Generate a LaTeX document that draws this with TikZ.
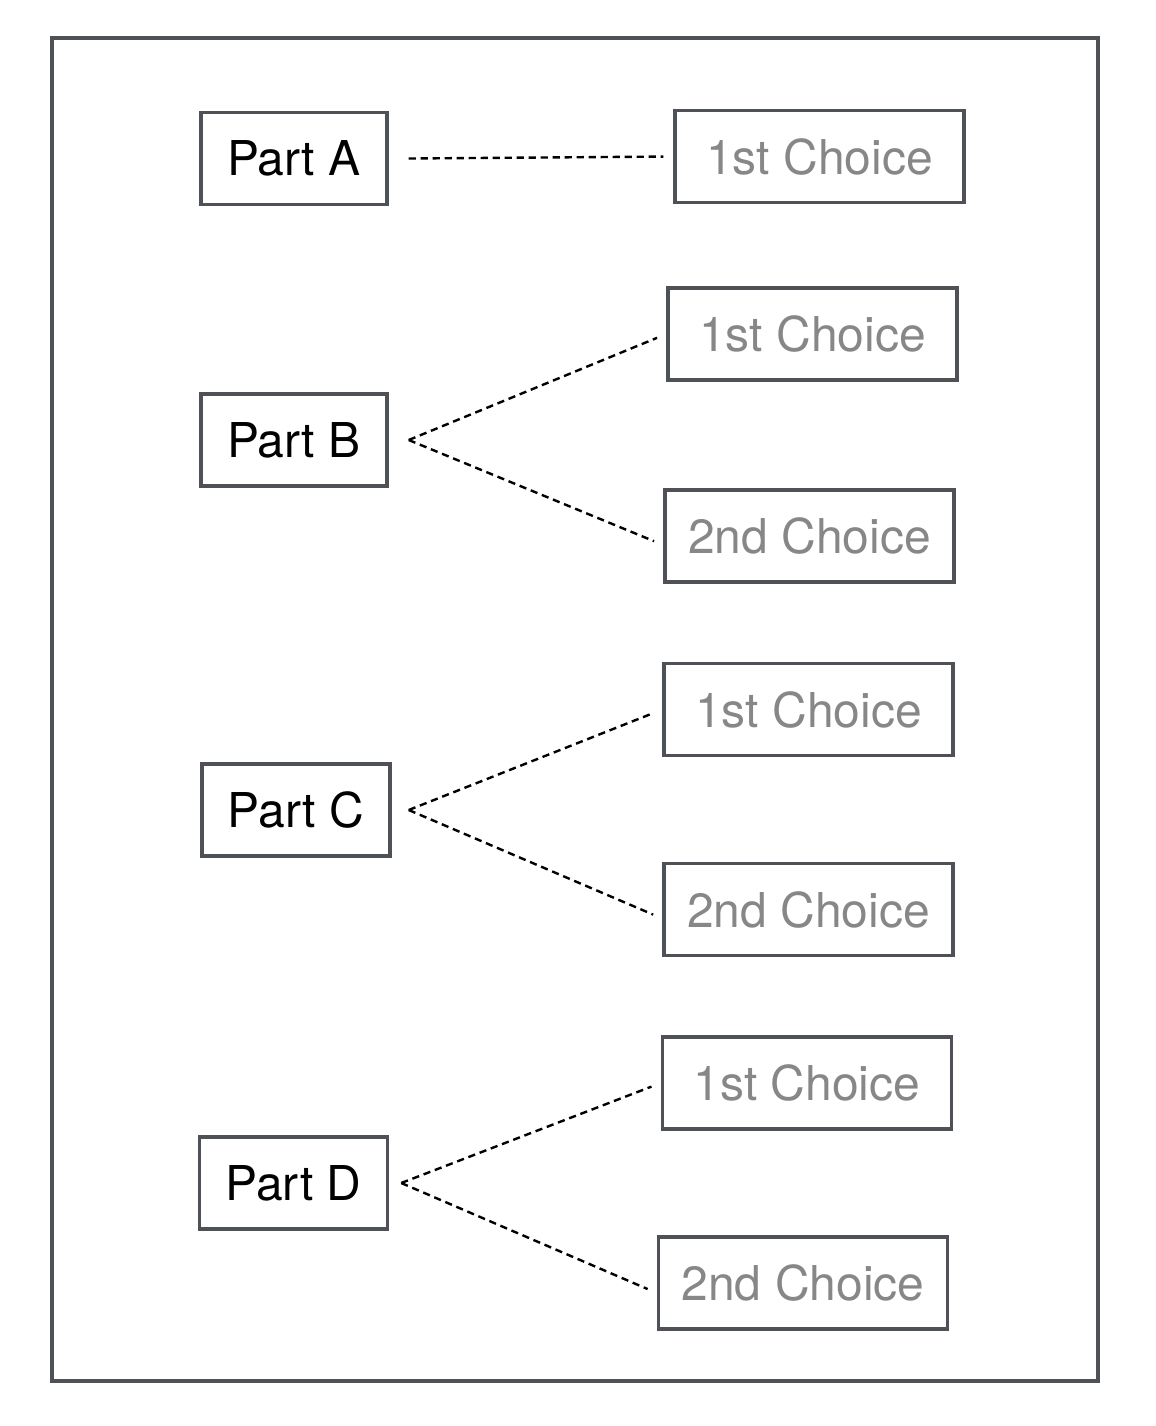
\documentclass[tikz,border=0pt]{standalone}
\usepackage{fontspec}
\setmainfont{TeX Gyre Heros}
\usepackage{xcolor}
\usetikzlibrary{positioning}
\definecolor{framegray}{HTML}{4E5257}
\definecolor{choicegray}{HTML}{878787}

\begin{document}
\begin{tikzpicture}[
          x=0.5pt, y=-0.5pt,
          part/.style={draw=framegray, line width=1.7pt, minimum width=93pt, minimum height=46pt, inner sep=0pt, font=\fontsize{24}{27}\selectfont},
          choice/.style={part, minimum width=144.5pt, text=choicegray},
          link/.style={line width=1.2pt, dash pattern=on 3.6pt off 2.4pt, shorten >=5pt}
      ]
        \useasboundingbox (0,0) rectangle (1156,1426);
        \draw[framegray, line width=1.7pt] (52,38) rectangle (1098,1381);
        % parts
        \node[part] (pA) at (294,158.5) {Part A};
        \node[part] (pB) at (294,440) {Part B};
        \node[part, minimum width=94pt] (pC) at (296,810) {Part C};
        \node[part, minimum width=94pt] (pD) at (293.5,1183) {Part D};
        % choices
        \node[choice] (cA1) at (819.5,156.5) {1st Choice};
        \node[choice] (cB1) at (812.5,334) {1st Choice};
        \node[choice] (cB2) at (809.5,536) {2nd Choice};
        \node[choice] (cC1) at (808.5,709.5) {1st Choice};
        \node[choice] (cC2) at (808.5,909.5) {2nd Choice};
        \node[choice] (cD1) at (807,1083) {1st Choice};
        \node[choice] (cD2) at (803,1283) {2nd Choice};
        % fork points
        \coordinate[right=10pt of pA.east] (fA);
        \coordinate[right=10pt of pB.east] (fB);
        \coordinate[right=8.5pt of pC.east] (fC);
        \coordinate[right=6pt of pD.east] (fD);
        \draw[link] (fA) -- (cA1.west);
        \draw[link] (fB) -- (cB1.west);
        \draw[link] (fB) -- ([yshift=-4.5pt]cB2.west);
        \draw[link] (fC) -- (cC1.west);
        \draw[link] (fC) -- ([yshift=-4.5pt]cC2.west);
        \draw[link] (fD) -- (cD1.west);
        \draw[link] (fD) -- ([yshift=-5pt]cD2.west);
      \end{tikzpicture}
\end{document}
